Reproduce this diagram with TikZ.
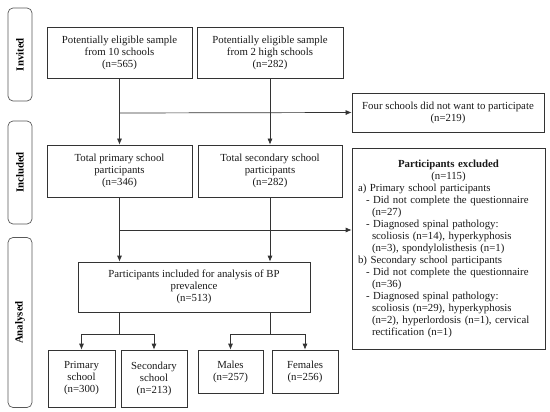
\documentclass[tikz,border=0pt]{standalone}
\usepackage{fontspec}
\setmainfont{Liberation Serif}
\usetikzlibrary{arrows.meta}

\tikzset{
  box/.style={draw=black!80, line width=0.7pt, rectangle, align=center, inner sep=2pt,
              font=\fontsize{10.8}{12}\selectfont, text=black!90},
  stage/.style={draw=black!65, line width=0.7pt, rounded corners=5pt, minimum height=24pt,
                font=\fontsize{10.8}{12}\selectfont\bfseries, rotate=90, inner sep=0pt},
  arr/.style={draw=black!80, line width=0.7pt, -{Latex[length=6pt,width=5pt]}},
  ln/.style={draw=black!80, line width=0.7pt}
}

\begin{document}
\begin{tikzpicture}[x=1pt, y=-1pt]
  \useasboundingbox (0,0) rectangle (550,412);

  % etapes
  \node[stage, minimum width=93pt]  (invited)  at (20,54.5) {Invited};
  \node[stage, minimum width=103pt] (included) at (20,172.5) {Included};
  \node[stage, minimum width=170pt] (analysed) at (20,322.5) {Analysed};

  % invitats
  \node[box, minimum width=145pt, minimum height=51pt] (elig10) at (119.5,52.5)
       {Potentially eligible sample\\from 10 schools\\(n=565)};
  \node[box, minimum width=146pt, minimum height=51pt] (elig2) at (270,52.5)
       {Potentially eligible sample\\from 2 high schools\\(n=282)};
  \node[box, minimum width=192pt, minimum height=39pt] (refused) at (448,112.5)
       {Four schools did not want to participate\\(n=219)};

  % inclosos
  \node[box, minimum width=145pt, minimum height=52pt] (primary) at (119.5,171)
       {Total primary school\\participants\\(n=346)};
  \node[box, minimum width=144pt, minimum height=52pt] (secondary) at (270,171)
       {Total secondary school\\participants\\(n=282)};
  \node[box, minimum width=193pt, minimum height=201pt, text width=181pt, inner sep=6pt] (excluded) at (448.5,248.5)
       {\centering\textbf{Participants excluded}\\(n=115)\par
        \raggedright
        a) Primary school participants\\
        \hspace*{8pt}- Did not complete the questionnaire\\
        \hspace*{14pt}(n=27)\\
        \hspace*{8pt}- Diagnosed spinal pathology:\\
        \hspace*{14pt}scoliosis (n=14), hyperkyphosis\\
        \hspace*{14pt}(n=3), spondylolisthesis (n=1)\\
        b) Secondary school participants\\
        \hspace*{8pt}- Did not complete the questionnaire\\
        \hspace*{14pt}(n=36)\\
        \hspace*{8pt}- Diagnosed spinal pathology:\\
        \hspace*{14pt}scoliosis (n=29), hyperkyphosis\\
        \hspace*{14pt}(n=2), hyperlordosis (n=1), cervical\\
        \hspace*{14pt}rectification (n=1)\par};

  % analitzats
  \node[box, minimum width=232pt, minimum height=50pt] (bp) at (194,287)
       {Participants included for analysis of BP\\prevalence\\(n=513)};
  \node[box, minimum width=67pt, minimum height=57pt] (pschool) at (81.5,378.5)
       {Primary\\school\\(n=300)};
  \node[box, minimum width=66pt, minimum height=57pt] (sschool) at (154,378.5)
       {Secondary\\school\\(n=213)};
  \node[box, minimum width=65pt, minimum height=43pt] (males) at (230.5,371.5)
       {Males\\(n=257)};
  \node[box, minimum width=66pt, minimum height=43pt] (females) at (305,371.5)
       {Females\\(n=256)};

  \coordinate (split1) at (119.5,113);
  \coordinate (split2) at (119.5,230);
  \coordinate (split3) at (119.5,334);
  \coordinate (split4) at (270,334);

  % fletxes
  \draw[ln] (elig10.south) -- (split1);
  \draw[ln] (elig2.south) -- (elig2.south |- split1);
  \draw[arr] (split1) -- (refused.west);
  \draw[arr] (split1) -- (primary.north);
  \draw[arr] (elig2.south |- split1) -- (secondary.north);

  \draw[ln] (primary.south) -- (split2);
  \draw[ln] (secondary.south) -- (secondary.south |- split2);
  \draw[arr] (split2) -- (excluded.west |- split2);
  \draw[arr] (split2) -- (bp.north -| split2);
  \draw[arr] (secondary.south |- split2) -- (bp.north -| secondary.south);

  \draw[ln] (bp.south -| split3) -- (split3);
  \draw[ln] (pschool.north |- split3) -- (sschool.north |- split3);
  \draw[arr] (pschool.north |- split3) -- (pschool.north);
  \draw[arr] (sschool.north |- split3) -- (sschool.north);
  \draw[ln] (bp.south -| split4) -- (split4);
  \draw[ln] (males.north |- split4) -- (females.north |- split4);
  \draw[arr] (males.north |- split4) -- (males.north);
  \draw[arr] (females.north |- split4) -- (females.north);
\end{tikzpicture}
\end{document}
